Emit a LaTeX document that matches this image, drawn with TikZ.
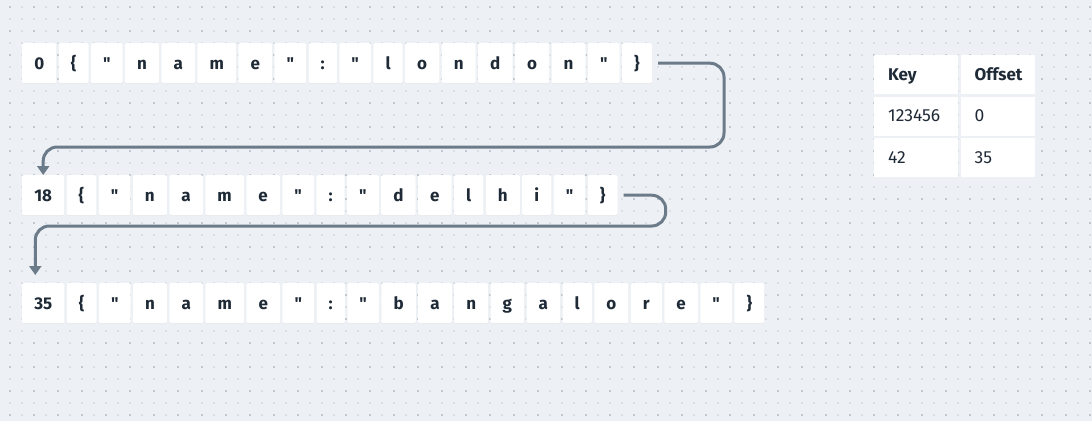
\documentclass[tikz,border=0pt]{standalone}
\usepackage{fontspec}
\setmainfont{Fira Sans}
\usetikzlibrary{positioning,arrows.meta,shadows}
\definecolor{bgcol}{HTML}{EDF0F4}
\definecolor{dotlight}{HTML}{DCE0E6}
\definecolor{dotdark}{HTML}{C2C8D0}
\definecolor{inkcol}{HTML}{1F2A37}
\definecolor{linkcol}{HTML}{6B7B8A}
\tikzset{
  cell/.style={fill=white, rounded corners=1.5pt, minimum height=40pt, inner xsep=12.12pt, inner ysep=0pt,
    text height=12pt, text depth=0pt, text=inkcol, font=\fontsize{17}{20}\selectfont\bfseries,
    drop shadow={shadow xshift=0pt, shadow yshift=-1pt, opacity=0.06}},
  tcell/.style={fill=white, minimum height=39pt, inner xsep=14pt, inner ysep=0pt, align=left,
    text height=11.5pt, text depth=0pt, text=inkcol, font=\fontsize{17.5}{20}\selectfont},
  link/.style={draw=linkcol, line width=3pt, rounded corners=14pt, -{Triangle[width=12pt,length=9pt]}}
}
\begin{document}
\begin{tikzpicture}[x=1pt,y=-1pt]
  % background and dot grid
  \fill[bgcol] (0,0) rectangle (1092,421);
  \useasboundingbox (0,0) rectangle (1092,421);
  \foreach \x in {10,22,...,1090}
    \foreach \y in {7,19,...,420}
      \fill[dotlight] (\x-1,\y-1) rectangle ++(2,2);
  \foreach \x in {10,34,...,1090}
    \foreach \y in {7,31,...,420}
      \fill[dotdark] (\x-1,\y-1) rectangle ++(2,2);

  % record at offset 0
  \node[cell, anchor=north west] (r1c0) at (22,43) {0};
  \foreach \ch [count=\i, evaluate=\i as \j using int(\i-1)] in {\{,\textquotedbl,n,a,m,e,\textquotedbl,:,\textquotedbl,l,o,n,d,o,n,\textquotedbl,\}}
    \node[cell, right=2pt of r1c\j] (r1c\i) {\ch};

  % record at offset 18
  \node[cell, anchor=north west] (r2c0) at (22,175) {18};
  \foreach \ch [count=\i, evaluate=\i as \j using int(\i-1)] in {\{,\textquotedbl,n,a,m,e,\textquotedbl,:,\textquotedbl,d,e,l,h,i,\textquotedbl,\}}
    \node[cell, right=2pt of r2c\j] (r2c\i) {\ch};

  % record at offset 35
  \node[cell, anchor=north west] (r3c0) at (22,283) {35};
  \foreach \ch [count=\i, evaluate=\i as \j using int(\i-1)] in {\{,\textquotedbl,n,a,m,e,\textquotedbl,:,\textquotedbl,b,a,n,g,a,l,o,r,e,\textquotedbl,\}}
    \node[cell, right=2pt of r3c\j] (r3c\i) {\ch};

  % links between records
  \coordinate (r3in) at ([xshift=-8pt,yshift=8pt]r3c0.north);
  \draw[link] ([xshift=6pt]r1c17.east) -- ++(66,0) |- ([yshift=28pt]r2c0.north) -- (r2c0.north);
  \draw[link] ([xshift=6pt]r2c16.east) -- ++(42,0) |- ([yshift=49pt]r3in) -- (r3in);

  % index table
  \node[tcell, anchor=north west, text width=56pt, font=\fontsize{17}{20}\selectfont\bfseries] (key) at (874,55) {Key};
  \node[tcell, text width=46pt, right=2pt of key, font=\fontsize{17}{20}\selectfont\bfseries] (off) {Offset};
  \node[tcell, text width=56pt, below=2pt of key] (k1) {123456};
  \node[tcell, text width=46pt, right=2pt of k1] (o1) {0};
  \node[tcell, text width=56pt, below=2pt of k1] (k2) {42};
  \node[tcell, text width=46pt, right=2pt of k2] (o2) {35};
\end{tikzpicture}
\end{document}
